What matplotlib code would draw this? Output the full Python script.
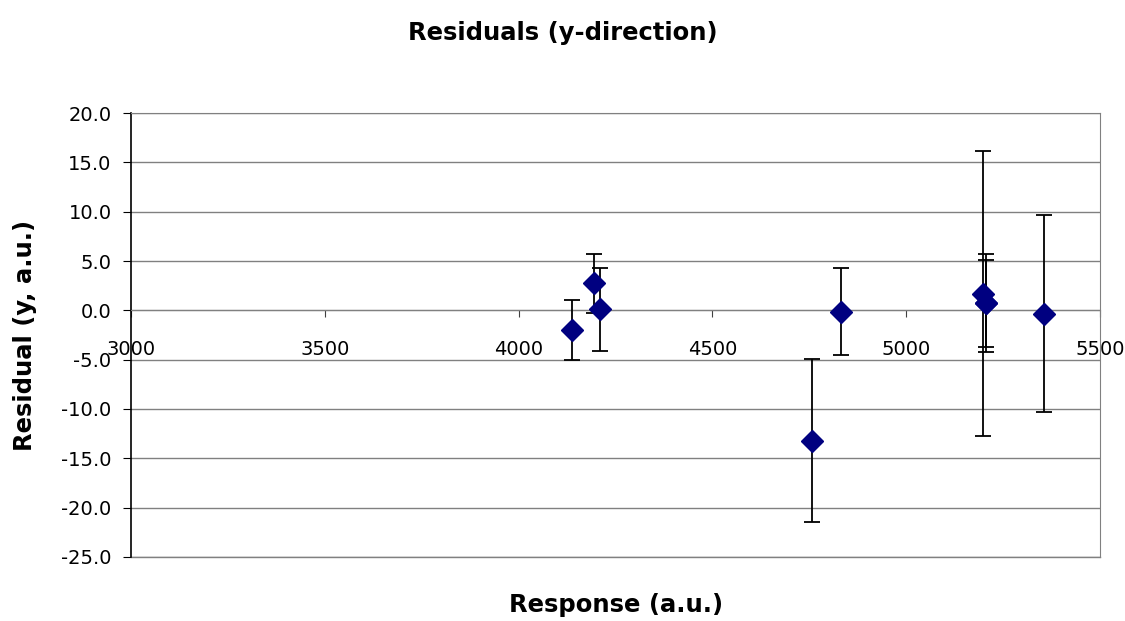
import matplotlib
matplotlib.use("Agg")
import matplotlib.pyplot as plt
from matplotlib.ticker import FormatStrFormatter

plt.rcParams['font.family'] = ['DejaVu Sans']
plt.rcParams['axes.unicode_minus'] = False

# residual data
response = [4137, 4194, 4210, 4756, 4833, 5198, 5205, 5207, 5356]
residual = [-2.0, 2.75, 0.1, -13.2, -0.15, 1.7, 0.7, 0.75, -0.35]
error = [3.0, 3.0, 4.2, 8.3, 4.4, 14.4, 4.45, 5.0, 10.0]

x_ticks = [3000, 3500, 4000, 4500, 5000, 5500]
y_ticks = [-25, -20, -15, -10, -5, 0, 5, 10, 15, 20]

fig = plt.figure(figsize=(11.25, 6.21), dpi=100)
ax = fig.add_axes([0.1164, 0.1031, 0.8614, 0.7149])

ax.errorbar(response, residual, yerr=error, fmt='D', color='#000080',
            markersize=11.5, ecolor='black', elinewidth=1.3, capsize=6,
            capthick=1.3, zorder=3)

ax.set_xlim(3000, 5500)
ax.set_ylim(-25, 20)
ax.set_xticks(x_ticks)
ax.set_yticks(y_ticks)
ax.yaxis.set_major_formatter(FormatStrFormatter('%.1f'))

ax.grid(axis='y', color='#808080', linewidth=1)
ax.set_axisbelow(True)
# frame line along the bottom of the plot area
ax.axhline(-25, color='#808080', linewidth=1, clip_on=False, zorder=1)

ax.spines['bottom'].set_position(('data', 0))
ax.spines['bottom'].set_color('#808080')
ax.spines['top'].set_color('#808080')
ax.spines['right'].set_color('#808080')
ax.spines['left'].set_color('black')
ax.spines['left'].set_linewidth(1.2)
ax.spines['left'].set_zorder(2)

ax.tick_params(axis='x', direction='out', length=5, color='#404040',
               labelsize=14, pad=16)
ax.tick_params(axis='y', direction='out', length=6, color='black',
               labelsize=14, pad=8)

fig.text(0.5, 0.947, 'Residuals (y-direction)', ha='center', va='center',
         fontsize=17.5, fontweight='bold')
fig.text(0.548, 0.026, 'Response (a.u.)', ha='center', va='center',
         fontsize=17.5, fontweight='bold')
fig.text(0.022, 0.46, 'Residual (y, a.u.)', ha='center', va='center',
         rotation=90, fontsize=17.5, fontweight='bold')

fig.savefig('out.png', dpi=100)
